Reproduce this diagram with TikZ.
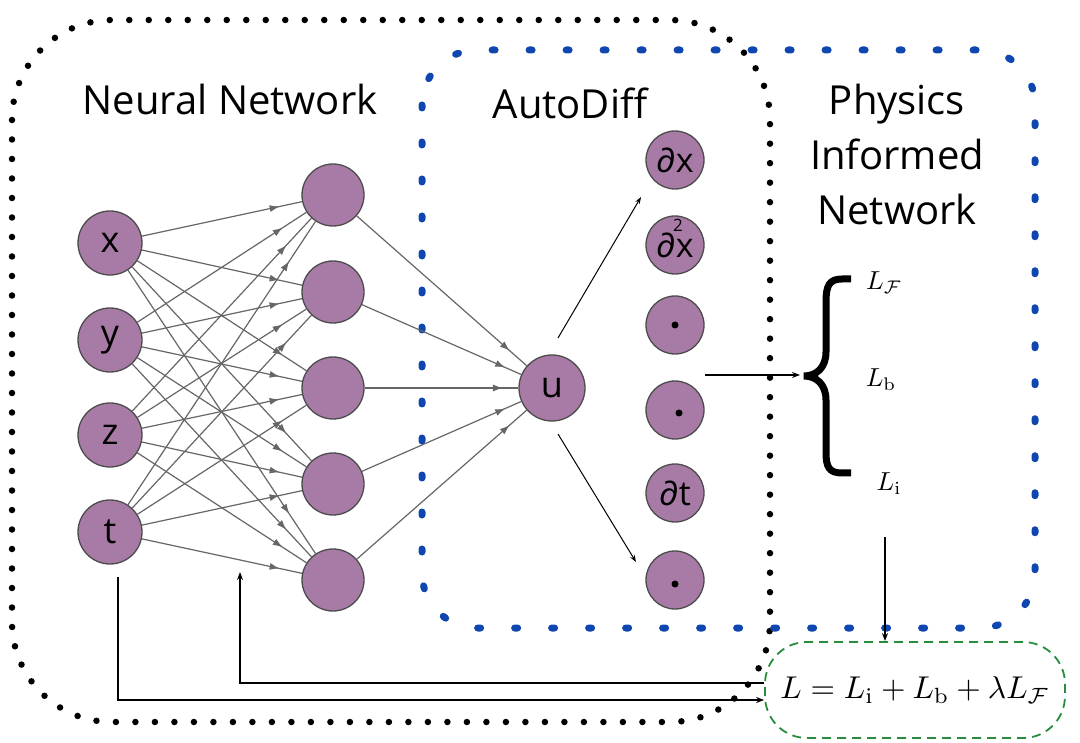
\documentclass[tikz,border=0pt]{standalone}
\usepackage{amsmath,amssymb}
\usepackage{graphicx}
\usepackage[no-math]{fontspec}
\setmainfont{Open Sans}
\usetikzlibrary{arrows.meta,positioning,decorations.markings}
\definecolor{neuronfill}{RGB}{168,122,166}
\definecolor{adblue}{RGB}{15,70,175}
\definecolor{lossgreen}{RGB}{40,140,60}

\begin{document}
\begin{tikzpicture}[
x=1pt, y=-1pt,
neuron/.style={circle, draw=black!70, fill=neuronfill, line width=1.3pt, minimum size=64pt, inner sep=0pt, font=\fontsize{36}{36}\selectfont},
hidden/.style={neuron, minimum size=62pt},
deriv/.style={neuron, minimum size=58pt, font=\fontsize{34}{34}\selectfont},
title/.style={align=center, font=\fontsize{40}{55}\selectfont},
syn/.style={draw=black!60, line width=1.2pt, decoration={markings, mark=at position #1 with {\arrow{Latex[length=10pt,width=7pt]}}}, postaction={decorate}},
syn/.default=0.86,
arr/.style={-{Stealth[length=8pt,width=6pt]}, line width=1.3pt},
dot/.style={circle, fill=black, inner sep=0pt, minimum size=7pt}
]
\useasboundingbox (0,0) rectangle (1080,743);

% frames
\draw[line width=6.5pt, line cap=round, dash pattern=on 0pt off 19.5pt, rounded corners=100pt] (12,20) rectangle (770,722);
\draw[adblue, line width=7pt, line cap=round, dash pattern=on 3pt off 34pt, rounded corners=55pt] (422,50) rectangle (1035,628);

% titles
\node[title] (nntitle) at (230,100) {Neural Network};
\node[title] (adtitle) at (570,103) {AutoDiff};
\node[title] (pititle) at (897,155) {Physics\\Informed\\Network};

% input layer
\node[neuron] (in1) at (110,243) {x};
\node[neuron] (in2) at (110,340) {y};
\node[neuron] (in3) at (110,435) {z};
\node[neuron] (in4) at (110,532) {t};

% hidden layer
\node[hidden] (h1) at (333,195) {};
\node[hidden] (h2) at (333,292) {};
\node[hidden] (h3) at (333,388) {};
\node[hidden] (h4) at (333,484) {};
\node[hidden] (h5) at (333,580) {};

% output
\node[neuron, minimum size=66pt] (u) at (552,388) {u};

% derivatives
\node[deriv] (dx) at (675,160) {∂x};
\node[deriv] (dxx) at (675,245) {∂x};
\node[font=\fontsize{17}{17}\selectfont, inner sep=0pt, anchor=south] (sq) at (678,232) {2};
\node[deriv] (d3) at (675,325) {};
\node[deriv] (d4) at (675,410) {};
\node[deriv] (dt) at (675,493) {∂t};
\node[deriv] (d6) at (675,580) {};
\node[dot] at (d3) {};
\node[dot] at ([xshift=4pt,yshift=-3pt]d4.center) {};
\node[dot] at ([yshift=-4pt]d6.center) {};

\foreach \i in {1,...,4}
  \foreach \j in {1,...,5}
    \draw[syn] (in\i) -- (h\j);
\foreach \j in {1,...,5}
  \draw[syn=0.9] (h\j) -- (u);

\coordinate (uup) at (558,338);
\coordinate (upend) at (641,197);
\coordinate (udown) at (558,434);
\coordinate (dnend) at (636,562);
\draw[-{Stealth[length=7pt,width=5pt]}, line width=1pt] (uup) -- (upend);
\draw[-{Stealth[length=7pt,width=5pt]}, line width=1pt] (udown) -- (dnend);

% losses
\node (lf) at (884,283) {\scalebox{2.6}{$L_{\mathcal{F}}$}};
\node (lb) at (881,380) {\scalebox{2.6}{$L_{\mathrm{b}}$}};
\node (li) at (889,484) {\scalebox{2.6}{$L_{\mathrm{i}}$}};
\draw[line width=7pt] (851,279) -- (842,279) .. controls (829,279) and (826,286) .. (826,302) -- (826,352)
  .. controls (826,368) and (816,376) .. (804,376) .. controls (816,376) and (826,384) .. (826,400)
  -- (826,452) .. controls (826,467) and (829,473) .. (842,473) -- (851,473);
\coordinate (bracetip) at (800,375);
\coordinate (colout) at (705,375);
\draw[arr] (colout) -- (bracetip);

\node[draw=lossgreen, line width=1.8pt, dash pattern=on 9pt off 6pt, rounded corners=42pt, minimum width=300pt, minimum height=96pt, inner sep=2pt] (loss) at (915,690) {\scalebox{3.15}{$L = L_{\mathrm{i}} + L_{\mathrm{b}} + \lambda L_{\mathcal{F}}$}};
\coordinate (lidown) at (885,537);
\draw[arr] (lidown) -- ([xshift=-30pt]loss.north);

% feedback
\coordinate (tdown) at (118,577);
\coordinate (hup) at (240,572);
\draw[arr] (tdown) |- (loss.west |- 0,700);
\draw[arr] (loss.west |- 0,683) -| (hup);
\end{tikzpicture}
\end{document}
